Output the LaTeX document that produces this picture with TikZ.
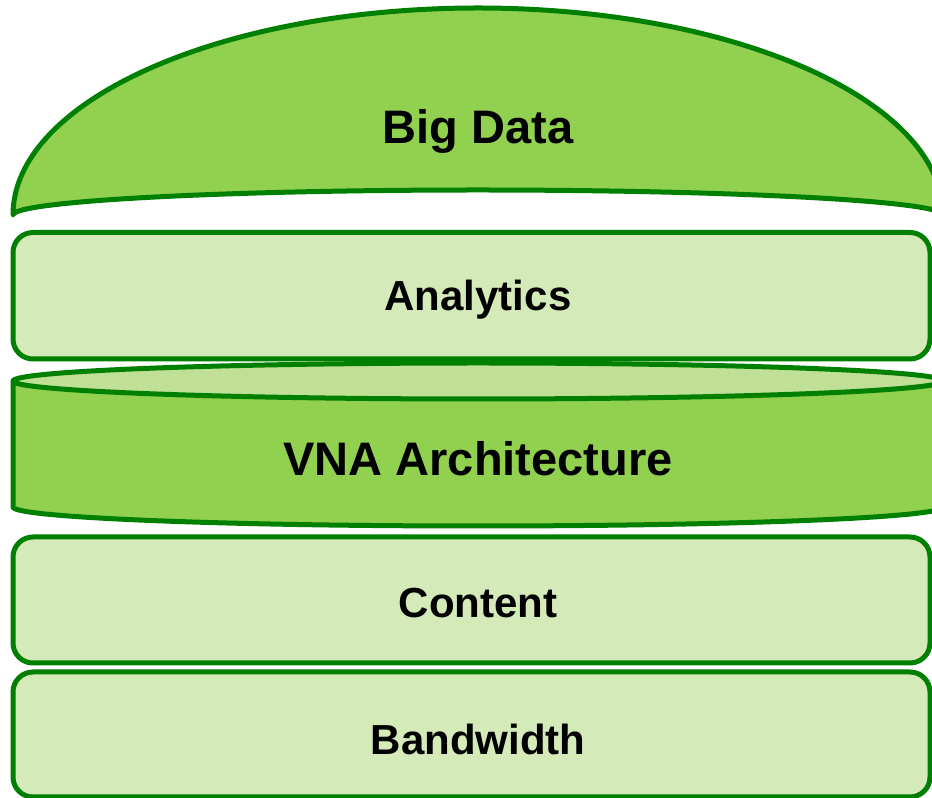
\documentclass[tikz,border=0pt]{standalone}
\usepackage{fontspec}
\setmainfont{Liberation Sans}
\definecolor{darkgreen}{HTML}{008000}
\definecolor{midgreen}{HTML}{92D050}
\definecolor{palegreen}{HTML}{D4EAB9}
\definecolor{topgreen}{HTML}{BFE096}
\tikzset{
	stackbox/.style={draw=darkgreen,line width=5pt,fill=palegreen,rounded corners=20pt},
	greenpart/.style={draw=darkgreen,line width=5pt,fill=midgreen,line join=round},
	bigtext/.style={inner sep=0pt,font=\fontsize{47}{56}\selectfont\bfseries},
	smalltext/.style={inner sep=0pt,font=\fontsize{42}{50}\selectfont\bfseries},
}
\begin{document}
\begin{tikzpicture}[x=1pt,y=1pt]
\useasboundingbox (0,0) rectangle (932,798);
% dome on top
\draw[greenpart] (13,583) arc[start angle=180,end angle=0,x radius=465,y radius=207] arc[start angle=0,end angle=180,x radius=465,y radius=25] -- cycle;
\draw[stackbox] (13,439) rectangle (930,565.5);
% cylinder
\draw[greenpart] (13,417) -- (13,291) arc[start angle=180,end angle=360,x radius=465,y radius=19] -- (943,417);
\draw[greenpart,fill=topgreen] (478,417) ellipse[x radius=465,y radius=18];
\draw[stackbox] (13,135) rectangle (930,261);
\draw[stackbox] (13,1) rectangle (930,126);
\node[bigtext] (bigdata) at (478,667) {Big Data};
\node[smalltext] (analytics) at (478,498) {Analytics};
\node[bigtext] (vna) at (478,339) {VNA Architecture};
\node[smalltext] (content) at (478,195) {Content};
\node[smalltext] (bandwidth) at (478,59) {Bandwidth};
\end{tikzpicture}
\end{document}
